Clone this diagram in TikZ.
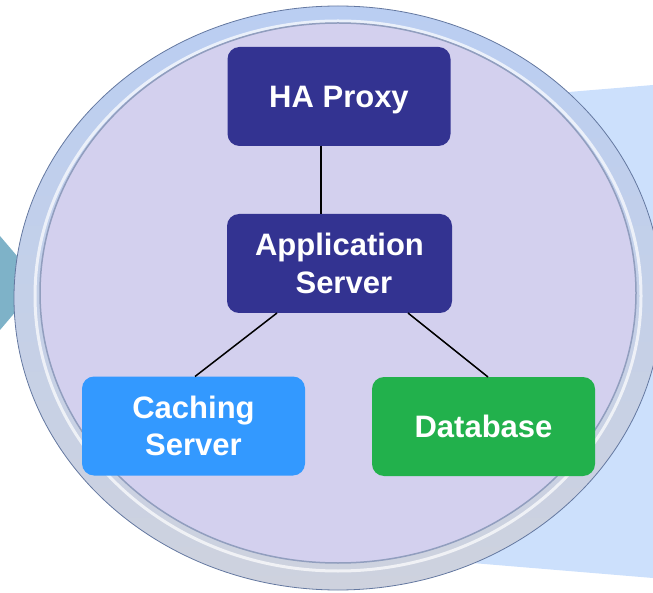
\documentclass[tikz,border=0pt]{standalone}
\usepackage{fontspec}
\setmainfont{Liberation Sans}
\usepackage{tikz}
\usetikzlibrary{calc}
\definecolor{lavender}{RGB}{211,208,238}
\definecolor{proxyblue}{RGB}{51,51,145}
\definecolor{cacheblue}{RGB}{51,153,255}
\definecolor{dbgreen}{RGB}{34,177,76}
\definecolor{sideblue}{RGB}{204,224,252}
\definecolor{sideteal}{RGB}{126,178,200}
\definecolor{ringtop}{RGB}{186,206,242}
\definecolor{ringbottom}{RGB}{206,210,222}
\definecolor{ringedge}{RGB}{100,120,160}
\definecolor{ringinner}{RGB}{145,158,190}

\begin{document}
\begin{tikzpicture}[x=1pt,y=-1pt]
        \tikzset{box/.style = {shape=rectangle,rounded corners=12pt,minimum width=223pt,minimum height=99pt,inner sep=0pt,outer sep=0pt,text=white,align=center,font=\bfseries\fontsize{31}{37.5}\selectfont}}
        \tikzset{edge/.style = {draw=black,line width=1.5pt}}
        \useasboundingbox (0,0) rectangle (653,593);
        % background
        \fill[sideblue] (400,106) -- (653,85) -- (653,578) -- (400,557) -- cycle;
        \fill[sideteal] (0,236) -- (40,283) -- (0,330) -- cycle;
        % ring
        \shade[top color=ringtop,bottom color=ringbottom,draw=ringedge,line width=0.8pt] (338,298) ellipse [x radius=324pt,y radius=292pt];
        \draw[white,opacity=0.7,line width=3pt] (338,296) ellipse [x radius=303pt,y radius=275pt];
        \fill[lavender,draw=ringinner,line width=1.5pt] (338,293) ellipse [x radius=298pt,y radius=270pt];
        % vertices
        \node[box,fill=proxyblue,text depth=0pt] (haproxy) at (339,96.5) {HA Proxy};
        \node[box,fill=proxyblue,minimum width=225pt] (appserver) at (339.5,263.5) {Application\\\hspace*{.28em}Server};
        \node[box,fill=cacheblue] (caching) at (193.5,426) {Caching\\Server};
        \node[box,fill=dbgreen] (database) at (483.5,426.5) {Database};
        %edges
        \draw[edge] ($(haproxy.south)+(-18,0)$) to ($(appserver.north)+(-18.5,0)$);
        \draw[edge] ($(appserver.south)+(-62.5,0)$) to ($(caching.north)+(1.5,0)$);
        \draw[edge] ($(appserver.south)+(68.5,0)$) to ($(database.north)+(4.5,0)$);
\end{tikzpicture}
\end{document}
